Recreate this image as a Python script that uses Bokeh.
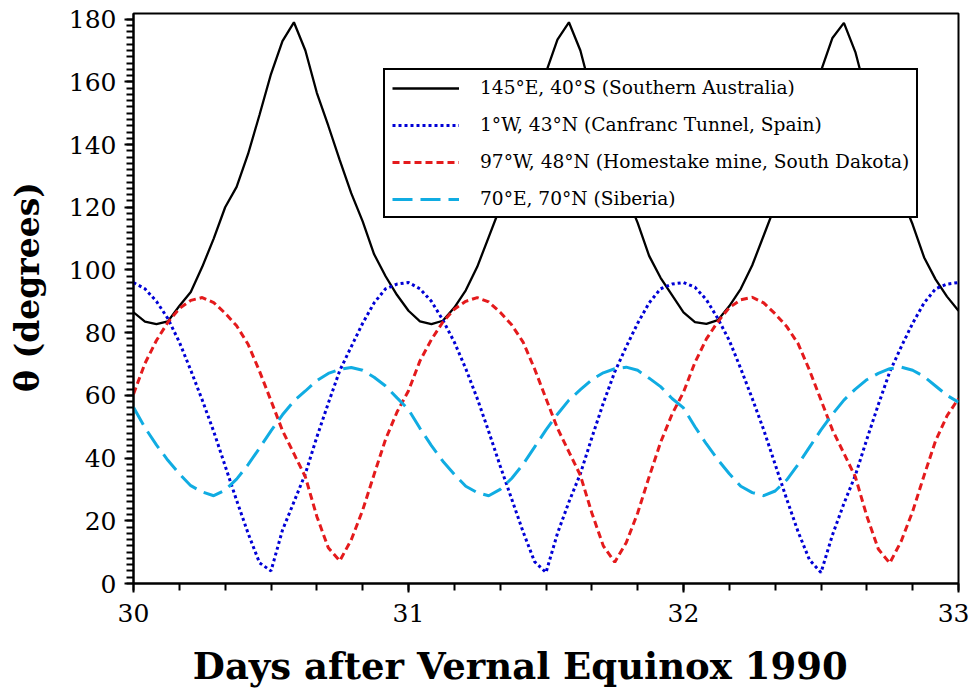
import numpy as np
from bokeh.plotting import figure
from bokeh.models import (Range1d, SingleIntervalTicker, Legend, LegendItem,
                          ColumnDataSource)
from bokeh.embed import file_html
from bokeh.resources import INLINE

# ---- data, hourly samples from day 30 to day 33 ----
days = [30 + k / 24 for k in range(73)]

australia = [
    86.5, 83.5, 82.7, 83.6, 88.5, 93.0, 101.0, 110.0, 120.0, 126.5, 137.0, 149.5,
    162.5, 173.0, 179.0, 170.0, 156.5, 146.0, 135.0, 124.5, 115.5, 105.0, 98.0, 92.0,
    87.0, 83.6, 82.7, 83.8, 88.0, 93.5, 101.0, 110.5, 120.0, 127.0, 137.5, 150.0,
    163.0, 173.5, 179.0, 170.0, 156.0, 145.5, 134.5, 124.0, 115.0, 104.5, 97.5, 92.0,
    86.5, 83.4, 82.8, 84.0, 88.5, 94.0, 101.5, 111.0, 120.5, 127.5, 138.0, 150.5,
    163.5, 174.0, 178.8, 169.5, 155.5, 145.0, 134.0, 123.5, 114.5, 104.0, 97.0, 91.5,
    87.0,
]

canfranc = [
    96.0, 94.0, 90.0, 84.5, 77.0, 68.0, 58.5, 48.5, 37.5, 26.5, 16.0, 6.6,
    4.0, 17.0, 26.0, 35.0, 46.7, 57.5, 67.9, 75.5, 83.0, 89.5, 94.0, 95.5,
    96.0, 94.0, 90.0, 84.0, 77.0, 68.5, 59.0, 48.5, 37.5, 27.0, 16.5, 7.0,
    3.5, 16.0, 26.0, 35.0, 46.5, 57.5, 67.5, 75.5, 83.0, 89.5, 94.0, 95.5,
    96.0, 94.5, 90.5, 84.5, 77.5, 68.5, 59.0, 49.0, 38.0, 27.0, 16.5, 7.5,
    3.5, 15.5, 25.5, 34.5, 46.0, 57.0, 67.5, 75.5, 83.0, 89.5, 94.0, 95.5,
    96.0,
]

homestake = [
    60.4, 70.2, 77.5, 83.3, 87.7, 90.3, 91.2, 89.6, 86.2, 82.2, 76.3, 67.7,
    58.3, 48.8, 41.4, 34.0, 21.4, 11.4, 7.2, 13.9, 23.4, 34.8, 46.0, 54.7,
    61.5, 71.0, 77.8, 83.4, 87.5, 90.0, 91.2, 89.8, 86.5, 82.5, 77.0, 68.5,
    59.0, 49.5, 42.0, 34.5, 22.5, 12.0, 6.8, 13.0, 22.5, 34.0, 45.0, 54.0,
    61.0, 70.5, 78.0, 83.5, 88.0, 90.5, 91.3, 89.5, 86.0, 82.0, 76.5, 68.0,
    58.5, 49.0, 41.5, 34.0, 21.5, 11.0, 6.5, 13.5, 23.0, 34.5, 45.5, 53.5,
    59.0,
]

siberia = [
    56.2, 49.7, 44.2, 39.3, 35.0, 31.2, 29.2, 28.0, 29.8, 33.3, 37.9, 43.2,
    48.7, 53.8, 58.2, 61.4, 64.7, 67.0, 68.3, 68.9, 68.0, 65.8, 63.0, 59.2,
    55.5, 49.5, 44.0, 39.0, 34.8, 31.0, 29.0, 28.0, 30.0, 33.5, 38.0, 43.5,
    49.0, 54.0, 58.5, 61.8, 65.0, 67.2, 68.5, 69.0, 68.0, 65.5, 62.8, 59.0,
    56.0, 50.0, 44.5, 39.5, 35.0, 31.0, 29.0, 28.0, 29.5, 33.0, 38.0, 43.5,
    49.0, 54.0, 58.5, 62.0, 65.0, 67.0, 68.5, 69.0, 68.0, 66.0, 63.0, 60.0,
    57.8,
]

labels = [
    "145°E, 40°S (Southern Australia)",
    "1°W, 43°N (Canfranc Tunnel, Spain)",
    "97°W, 48°N (Homestake mine, South Dakota)",
    "70°E, 70°N (Siberia)",
]

x_label = "Days after Vernal Equinox 1990"
y_label = "θ (degrees)"

# ---- figure ----
FONT = "DejaVu Serif"
NB = "\u00a0"  # non-breaking spaces nudge the centred axis titles

p = figure(width=969, height=694,
           x_range=Range1d(30, 33), y_range=Range1d(0, 181.8),
           output_backend="svg", toolbar_location=None,
           min_border_left=133, min_border_right=11,
           min_border_top=13, min_border_bottom=111)
p.xgrid.visible = False
p.ygrid.visible = False
p.outline_line_color = "black"
p.outline_line_width = 2
p.outline_line_alpha = 1.0
p.background_fill_color = "white"
p.border_fill_color = "white"

src = ColumnDataSource(dict(x=days, a=australia, c=canfranc,
                            h=homestake, s=siberia))

r1 = p.line("x", "a", source=src, line_color="black", line_width=2.3)
r2 = p.line("x", "c", source=src, line_color="#0000d6", line_width=3,
            line_dash="3 3")
r3 = p.line("x", "h", source=src, line_color="#e41a1c", line_width=3,
            line_dash="7 4")
r4 = p.line("x", "s", source=src, line_color="#10ace2", line_width=3,
            line_dash="20 8")

# ---- axes ----
p.xaxis.ticker = SingleIntervalTicker(interval=1, num_minor_ticks=6)
p.yaxis.ticker = SingleIntervalTicker(interval=20, num_minor_ticks=10)
for ax in (p.xaxis[0], p.yaxis[0]):
    ax.axis_line_width = 2
    ax.axis_line_color = "black"
    ax.major_tick_line_width = 2
    ax.minor_tick_line_width = 2
    ax.major_tick_in = 0
    ax.major_tick_out = 9
    ax.minor_tick_in = 0
    ax.minor_tick_out = 7
    ax.major_label_text_font = FONT
    ax.major_label_text_font_size = "25px"
    ax.major_label_text_color = "black"
    ax.axis_label_text_font = FONT
    ax.axis_label_text_font_style = "bold"
    ax.axis_label_text_color = "black"

p.xaxis.axis_label = x_label + NB * 4
p.yaxis.axis_label = NB * 2 + y_label
p.xaxis.axis_label_text_font_size = "37px"
p.yaxis.axis_label_text_font_size = "33px"
p.xaxis.major_label_standoff = 11
p.yaxis.major_label_standoff = 8
p.xaxis.axis_label_standoff = 19
p.yaxis.axis_label_standoff = 19

# ---- legend ----
legend = Legend(
    items=[LegendItem(label=labels[i], renderers=[r])
           for i, r in enumerate([r1, r2, r3, r4])],
    location=(250, 365),
    margin=0, padding=7, spacing=16,
    glyph_width=67, glyph_height=20, label_height=20, label_standoff=21,
    label_text_font=FONT, label_text_font_size="18.6px",
    label_text_color="black",
    border_line_color="black", border_line_width=2, border_line_alpha=1.0,
    background_fill_color="white", background_fill_alpha=1.0,
)
p.add_layout(legend)

open("out.html", "w").write(file_html(p, INLINE))
